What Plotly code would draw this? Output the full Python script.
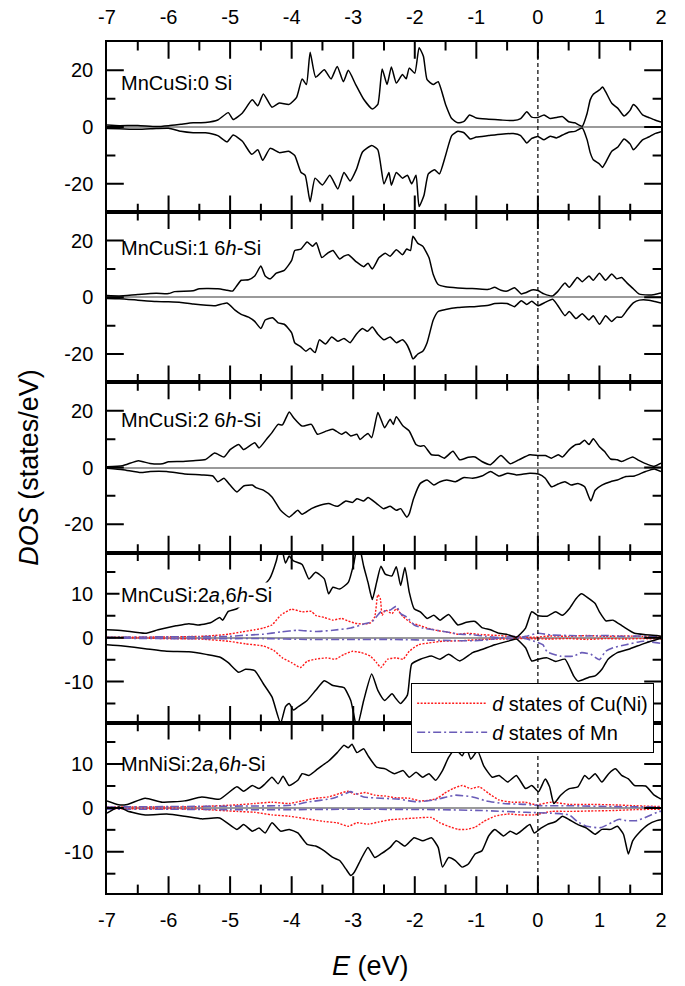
import plotly.graph_objects as go

# ---------------- data (E in eV, DOS in states/eV) ----------------
P1_UP = [(-7.0,0.7),(-6.8,0.5),(-6.5,0.6),(-6.2,0.2),(-6.0,0.5),(-5.8,1.0),(-5.6,1.5),(-5.4,1.6),(-5.2,2.5),(-5.03,5.1),(-4.95,2.7),(-4.8,5.0),(-4.64,9.6),(-4.55,7.5),(-4.46,11.7),(-4.32,7.0),(-4.2,8.5),(-4.04,8.0),(-3.92,10.5),(-3.83,17.0),(-3.76,15.0),(-3.70,26.4),(-3.61,17.6),(-3.47,20.2),(-3.36,17.0),(-3.26,21.4),(-3.16,16.0),(-3.08,20.0),(-2.96,15.0),(-2.83,9.8),(-2.69,6.4),(-2.6,8.0),(-2.53,20.5),(-2.45,15.0),(-2.38,21.2),(-2.3,15.5),(-2.2,18.5),(-2.14,17.0),(-2.09,20.8),(-2.0,19.0),(-1.93,28.0),(-1.86,25.0),(-1.80,16.7),(-1.7,15.0),(-1.62,16.0),(-1.5,8.0),(-1.4,3.0),(-1.3,1.5),(-1.2,2.0),(-1.11,4.3),(-1.0,3.2),(-0.8,2.8),(-0.6,2.5),(-0.4,2.3),(-0.28,3.0),(-0.18,5.4),(-0.1,3.5),(0.0,3.4),(0.1,4.3),(0.2,3.0),(0.3,3.4),(0.4,3.7),(0.5,1.9),(0.6,1.5),(0.72,0.3),(0.8,4.9),(0.85,9.6),(0.9,11.6),(1.0,13.1),(1.05,14.1),(1.1,12.5),(1.2,8.4),(1.3,6.6),(1.4,3.9),(1.5,6.0),(1.55,8.0),(1.6,7.2),(1.7,4.3),(1.8,3.4),(1.9,2.5),(2.0,1.8)]
P1_DN = [(-7.0,-0.5),(-6.8,-0.6),(-6.5,-0.8),(-6.2,-0.5),(-6.0,-0.4),(-5.8,-1.5),(-5.6,-2.0),(-5.4,-2.0),(-5.2,-3.0),(-5.05,-5.2),(-4.95,-2.8),(-4.8,-5.0),(-4.65,-9.6),(-4.55,-8.0),(-4.47,-11.7),(-4.35,-7.5),(-4.2,-9.0),(-4.05,-8.5),(-3.95,-10.0),(-3.85,-15.9),(-3.78,-17.0),(-3.70,-26.3),(-3.62,-18.0),(-3.5,-20.4),(-3.38,-17.0),(-3.25,-21.8),(-3.15,-16.0),(-3.05,-19.0),(-2.95,-15.0),(-2.85,-8.8),(-2.7,-6.5),(-2.6,-8.0),(-2.5,-20.0),(-2.42,-16.0),(-2.38,-20.5),(-2.3,-16.0),(-2.2,-18.0),(-2.12,-17.0),(-2.05,-20.0),(-1.98,-17.0),(-1.93,-28.0),(-1.85,-24.0),(-1.78,-16.5),(-1.68,-15.0),(-1.6,-16.5),(-1.5,-10.0),(-1.4,-3.0),(-1.3,-1.5),(-1.2,-2.0),(-1.1,-4.2),(-1.0,-3.5),(-0.8,-3.0),(-0.6,-2.5),(-0.4,-2.3),(-0.28,-3.0),(-0.18,-5.6),(-0.1,-4.0),(0.0,-3.3),(0.1,-4.5),(0.2,-3.2),(0.3,-3.8),(0.4,-2.8),(0.5,-1.8),(0.6,-1.5),(0.72,-0.3),(0.8,-4.5),(0.85,-9.0),(0.9,-11.5),(1.0,-13.0),(1.05,-14.2),(1.1,-12.5),(1.2,-8.5),(1.3,-7.0),(1.4,-4.2),(1.5,-6.0),(1.55,-8.0),(1.6,-7.0),(1.7,-4.5),(1.8,-3.5),(1.9,-2.3),(2.0,-1.6)]

P2_UP = [(-7.0,0.6),(-6.8,0.5),(-6.5,1.0),(-6.2,1.4),(-6.0,1.3),(-5.9,2.0),(-5.6,2.3),(-5.5,3.0),(-5.2,3.0),(-5.05,2.5),(-4.96,2.2),(-4.9,3.8),(-4.82,6.0),(-4.7,6.2),(-4.6,7.5),(-4.5,11.0),(-4.43,7.5),(-4.35,6.5),(-4.25,8.5),(-4.12,9.5),(-4.0,13.0),(-3.95,16.5),(-3.85,17.0),(-3.75,19.5),(-3.66,18.0),(-3.6,19.2),(-3.51,14.0),(-3.42,15.5),(-3.33,16.5),(-3.22,13.5),(-3.15,14.5),(-3.08,15.0),(-2.95,12.5),(-2.83,10.8),(-2.76,12.0),(-2.69,10.0),(-2.58,14.0),(-2.48,15.5),(-2.4,14.5),(-2.3,16.8),(-2.2,15.0),(-2.13,17.0),(-2.07,16.5),(-2.03,21.5),(-1.95,19.0),(-1.87,18.0),(-1.77,14.0),(-1.7,8.0),(-1.62,4.5),(-1.5,3.7),(-1.3,3.3),(-1.0,3.0),(-0.8,2.8),(-0.7,3.5),(-0.6,2.5),(-0.5,2.2),(-0.38,3.4),(-0.27,1.2),(-0.2,1.6),(-0.1,2.6),(0.0,2.4),(0.1,1.2),(0.24,0.5),(0.32,2.0),(0.44,5.0),(0.51,3.5),(0.64,7.0),(0.72,5.5),(0.83,7.5),(0.9,6.0),(1.0,8.5),(1.1,6.0),(1.2,8.2),(1.28,6.5),(1.36,7.0),(1.45,5.0),(1.55,3.0),(1.64,1.2),(1.8,0.8),(1.9,1.0),(2.0,1.5)]
P2_DN = [(-7.0,-0.4),(-6.8,-0.5),(-6.5,-1.0),(-6.2,-1.5),(-6.0,-1.6),(-5.8,-1.8),(-5.6,-2.4),(-5.25,-3.0),(-5.05,-2.0),(-4.92,-4.5),(-4.82,-6.0),(-4.7,-7.0),(-4.6,-8.5),(-4.5,-11.0),(-4.43,-8.0),(-4.31,-7.2),(-4.22,-9.0),(-4.12,-9.5),(-4.0,-12.5),(-3.95,-16.0),(-3.85,-17.5),(-3.77,-19.0),(-3.7,-18.0),(-3.62,-19.5),(-3.55,-15.0),(-3.45,-16.5),(-3.35,-14.0),(-3.25,-15.5),(-3.15,-14.5),(-3.05,-16.0),(-2.95,-13.0),(-2.85,-11.0),(-2.77,-12.0),(-2.69,-10.5),(-2.6,-13.0),(-2.5,-15.0),(-2.4,-14.0),(-2.3,-16.0),(-2.2,-15.0),(-2.12,-17.0),(-2.07,-19.5),(-2.03,-21.7),(-1.95,-20.0),(-1.87,-19.0),(-1.8,-16.0),(-1.7,-8.0),(-1.62,-5.0),(-1.5,-4.3),(-1.3,-3.6),(-1.0,-3.2),(-0.8,-2.8),(-0.7,-2.2),(-0.5,-2.2),(-0.38,-3.3),(-0.27,-1.2),(-0.18,-2.5),(-0.1,-1.4),(0.0,-3.0),(0.1,-2.0),(0.24,-0.7),(0.32,-2.8),(0.44,-6.5),(0.51,-5.0),(0.62,-7.5),(0.72,-5.8),(0.83,-8.0),(0.9,-6.5),(1.0,-9.5),(1.1,-6.5),(1.2,-8.5),(1.28,-7.0),(1.36,-7.0),(1.45,-4.5),(1.55,-2.0),(1.65,-1.0),(1.8,-1.0),(1.9,-1.5),(2.0,-2.0)]

P3_UP = [(-7.0,0.3),(-6.75,0.6),(-6.49,2.4),(-6.3,1.4),(-6.1,1.3),(-6.0,2.0),(-5.8,2.1),(-5.6,2.4),(-5.4,2.8),(-5.25,5.1),(-5.1,3.7),(-5.0,6.3),(-4.86,8.1),(-4.78,6.3),(-4.6,8.7),(-4.53,6.9),(-4.39,10.5),(-4.32,12.3),(-4.22,15.2),(-4.15,15.0),(-4.04,19.6),(-3.97,17.6),(-3.83,14.6),(-3.68,15.2),(-3.58,11.7),(-3.43,12.9),(-3.33,13.5),(-3.19,11.7),(-3.12,12.5),(-3.04,11.1),(-2.94,11.7),(-2.89,9.9),(-2.82,11.1),(-2.76,12.0),(-2.7,10.5),(-2.6,19.4),(-2.55,17.0),(-2.49,14.0),(-2.4,17.0),(-2.35,15.2),(-2.3,17.9),(-2.19,14.6),(-2.09,12.9),(-1.98,8.1),(-1.91,7.5),(-1.85,7.7),(-1.73,4.5),(-1.62,4.3),(-1.52,3.3),(-1.38,5.7),(-1.27,2.7),(-1.13,3.6),(-1.02,3.7),(-0.91,2.1),(-0.77,1.0),(-0.6,4.2),(-0.45,1.3),(-0.31,2.7),(-0.13,4.5),(0.01,4.2),(0.12,4.2),(0.22,3.3),(0.33,4.5),(0.4,3.7),(0.51,6.3),(0.62,8.1),(0.68,8.3),(0.76,9.6),(0.83,8.1),(0.9,10.1),(1.0,7.3),(1.08,5.7),(1.18,3.0),(1.29,2.7),(1.36,2.1),(1.54,3.7),(1.64,2.5),(1.79,1.0),(1.89,0.4),(2.0,1.5)]
P3_DN = [(-7.0,-0.3),(-6.74,-0.8),(-6.45,-1.8),(-6.3,-1.4),(-6.03,-1.4),(-5.74,-2.3),(-5.46,-2.6),(-5.28,-3.0),(-5.2,-5.0),(-5.1,-3.8),(-5.0,-6.2),(-4.89,-8.6),(-4.78,-6.5),(-4.64,-6.2),(-4.57,-7.2),(-4.46,-8.0),(-4.32,-10.4),(-4.18,-15.1),(-4.04,-17.5),(-3.97,-16.3),(-3.9,-15.1),(-3.83,-16.5),(-3.68,-14.5),(-3.54,-13.3),(-3.4,-12.7),(-3.26,-13.7),(-3.12,-11.8),(-3.01,-12.3),(-2.94,-11.0),(-2.83,-11.8),(-2.76,-10.6),(-2.62,-12.7),(-2.51,-14.5),(-2.4,-13.7),(-2.3,-15.1),(-2.23,-14.5),(-2.13,-17.5),(-2.09,-16.3),(-2.02,-11.0),(-1.91,-5.6),(-1.8,-4.4),(-1.69,-6.2),(-1.59,-5.0),(-1.48,-4.4),(-1.34,-5.0),(-1.2,-3.5),(-1.06,-3.8),(-0.91,-3.0),(-0.77,-1.4),(-0.63,-3.0),(-0.49,-2.0),(-0.35,-2.6),(-0.13,-2.0),(0.01,-2.3),(0.12,-3.8),(0.22,-6.8),(0.33,-5.8),(0.44,-5.0),(0.54,-6.2),(0.65,-5.6),(0.76,-6.8),(0.86,-11.8),(0.93,-8.0),(1.04,-6.2),(1.18,-5.0),(1.29,-4.4),(1.43,-3.2),(1.57,-3.0),(1.75,-1.4),(1.89,-0.5),(2.0,-1.4)]

P4_UP = [(-7.0,1.8),(-6.74,1.6),(-6.38,1.0),(-6.17,1.8),(-5.88,2.7),(-5.67,3.2),(-5.53,2.9),(-5.32,3.4),(-5.17,4.6),(-5.12,4.0),(-5.03,6.0),(-4.89,6.6),(-4.75,8.5),(-4.6,10.2),(-4.45,12.0),(-4.36,13.4),(-4.25,17.5),(-4.18,21.5),(-4.1,17.0),(-4.04,18.6),(-3.97,17.5),(-3.83,16.7),(-3.72,13.4),(-3.61,14.9),(-3.47,13.4),(-3.4,10.0),(-3.33,11.5),(-3.22,11.1),(-3.08,12.6),(-2.99,17.0),(-2.92,22.0),(-2.83,16.3),(-2.76,12.6),(-2.69,8.7),(-2.62,12.6),(-2.55,16.3),(-2.48,14.5),(-2.37,14.1),(-2.3,16.2),(-2.23,11.9),(-2.16,16.0),(-2.09,10.4),(-2.01,6.6),(-1.91,5.9),(-1.8,4.4),(-1.69,5.1),(-1.59,4.0),(-1.45,5.3),(-1.3,2.9),(-1.16,3.5),(-1.02,3.7),(-0.91,2.3),(-0.77,1.8),(-0.63,1.0),(-0.49,0.7),(-0.35,0.1),(-0.2,2.2),(-0.1,5.9),(0.01,5.0),(0.15,4.9),(0.29,5.9),(0.4,5.1),(0.51,6.6),(0.62,8.9),(0.71,10.0),(0.83,8.9),(0.93,7.8),(1.0,5.9),(1.11,3.8),(1.22,4.0),(1.39,2.5),(1.57,1.0),(1.75,0.7),(1.93,0.5),(2.0,0.3)]
P4_DN = [(-7.0,-1.6),(-6.74,-1.9),(-6.38,-2.5),(-6.03,-3.1),(-5.67,-3.2),(-5.39,-3.8),(-5.17,-4.4),(-5.03,-5.7),(-4.86,-7.9),(-4.75,-7.2),(-4.6,-7.5),(-4.46,-10.5),(-4.32,-13.5),(-4.18,-19.5),(-4.1,-15.7),(-4.04,-15.0),(-3.97,-16.5),(-3.9,-15.8),(-3.75,-14.3),(-3.61,-12.0),(-3.47,-9.8),(-3.33,-10.9),(-3.15,-11.4),(-3.04,-14.3),(-2.94,-20.5),(-2.83,-14.3),(-2.7,-8.3),(-2.6,-12.0),(-2.49,-14.3),(-2.37,-12.8),(-2.3,-14.0),(-2.23,-15.0),(-2.12,-13.1),(-2.05,-6.0),(-1.91,-4.9),(-1.73,-4.2),(-1.59,-4.9),(-1.45,-3.8),(-1.27,-5.3),(-1.06,-3.4),(-0.91,-2.7),(-0.7,-1.6),(-0.49,-0.8),(-0.35,-0.3),(-0.2,-2.3),(-0.1,-5.3),(0.01,-4.9),(0.15,-4.6),(0.29,-5.4),(0.44,-4.9),(0.58,-8.7),(0.65,-9.9),(0.83,-9.0),(0.93,-8.7),(1.04,-7.2),(1.14,-4.9),(1.29,-3.4),(1.5,-2.5),(1.71,-1.4),(1.93,-0.4),(2.0,-0.2)]
P4_CU_UP = [(-7.0,0.1),(-6.5,0.1),(-6.0,0.2),(-5.5,0.3),(-5.25,0.5),(-5.03,0.8),(-4.82,1.3),(-4.6,1.8),(-4.46,2.2),(-4.32,2.9),(-4.18,5.1),(-4.0,6.5),(-3.83,5.9),(-3.68,6.0),(-3.61,5.1),(-3.47,4.6),(-3.33,4.0),(-3.19,4.4),(-3.08,3.8),(-2.97,3.3),(-2.83,3.1),(-2.72,3.4),(-2.65,4.8),(-2.6,9.8),(-2.56,8.9),(-2.53,5.1),(-2.48,6.3),(-2.37,5.5),(-2.3,6.6),(-2.19,4.8),(-2.05,3.3),(-1.94,2.9),(-1.8,2.2),(-1.62,1.6),(-1.48,1.3),(-1.3,0.8),(-1.13,1.0),(-0.91,0.7),(-0.63,0.5),(-0.35,0.2),(-0.06,0.1),(0.2,0.4),(0.5,0.3),(0.8,0.5),(1.1,0.3),(1.4,0.4),(1.7,0.3),(2.0,0.3)]
P4_CU_DN = [(-7.0,-0.1),(-6.5,-0.1),(-6.0,-0.2),(-5.5,-0.3),(-5.03,-0.8),(-4.75,-1.4),(-4.46,-1.9),(-4.29,-2.9),(-4.15,-4.6),(-4.0,-5.7),(-3.86,-6.8),(-3.75,-5.4),(-3.61,-4.9),(-3.43,-4.6),(-3.29,-4.9),(-3.15,-3.8),(-3.01,-3.1),(-2.87,-3.4),(-2.72,-4.2),(-2.62,-5.7),(-2.55,-6.8),(-2.44,-4.9),(-2.3,-4.6),(-2.19,-4.9),(-2.09,-3.1),(-1.94,-1.6),(-1.77,-1.2),(-1.55,-0.8),(-1.27,-0.7),(-0.91,-0.4),(-0.56,-0.3),(-0.2,-0.2),(0.2,-0.3),(0.5,-0.2),(0.8,-0.4),(1.1,-0.2),(1.4,-0.3),(1.7,-0.2),(2.0,-0.3)]
P4_MN_UP = [(-7.0,0.1),(-6.0,0.2),(-5.0,0.3),(-4.82,0.5),(-4.46,0.8),(-4.18,1.3),(-3.9,1.7),(-3.61,1.4),(-3.33,1.7),(-3.04,2.2),(-2.83,3.1),(-2.69,3.7),(-2.55,5.9),(-2.4,6.3),(-2.3,7.2),(-2.23,5.5),(-2.12,4.6),(-2.01,2.9),(-1.87,2.2),(-1.69,1.8),(-1.48,1.3),(-1.27,0.8),(-1.06,0.7),(-0.84,0.3),(-0.56,-0.1),(-0.42,-0.3),(-0.2,0.3),(0.0,1.0),(0.22,0.6),(0.5,0.5),(0.8,0.4),(1.1,0.5),(1.4,0.3),(1.7,0.4),(2.0,0.2)]
P4_MN_DN = [(-7.0,-0.1),(-6.0,-0.2),(-5.0,-0.2),(-4.46,-0.2),(-3.75,-0.4),(-3.04,-0.4),(-2.33,-0.4),(-1.62,-0.6),(-1.06,-0.7),(-0.77,-0.4),(-0.56,0.1),(-0.35,0.3),(-0.06,-0.8),(0.08,-1.6),(0.15,-3.2),(0.36,-4.2),(0.58,-4.2),(0.71,-3.4),(0.86,-3.8),(1.0,-5.0),(1.1,-3.1),(1.22,-2.3),(1.43,-1.6),(1.71,-0.8),(2.0,-1.3)]

P5_UP = [(-7.0,1.6),(-6.81,0.7),(-6.67,0.8),(-6.38,2.2),(-6.1,1.3),(-5.74,1.6),(-5.46,2.5),(-5.17,2.0),(-4.89,4.8),(-4.78,3.8),(-4.64,5.1),(-4.53,4.4),(-4.43,5.5),(-4.32,7.0),(-4.22,5.5),(-4.14,7.2),(-4.04,5.1),(-3.9,6.3),(-3.83,7.8),(-3.72,7.4),(-3.61,8.5),(-3.51,9.6),(-3.4,10.7),(-3.26,12.6),(-3.15,14.3),(-3.08,13.7),(-3.02,14.5),(-2.94,12.6),(-2.83,13.5),(-2.76,11.9),(-2.62,9.3),(-2.48,8.9),(-2.33,7.8),(-2.19,8.5),(-2.09,7.0),(-1.98,8.1),(-1.87,7.0),(-1.77,7.8),(-1.66,6.3),(-1.55,8.5),(-1.45,11.5),(-1.34,13.4),(-1.23,11.9),(-1.16,13.7),(-1.09,11.1),(-0.98,13.0),(-0.88,9.6),(-0.74,7.0),(-0.63,7.4),(-0.49,5.9),(-0.35,7.4),(-0.2,4.4),(-0.1,5.1),(0.01,3.7),(0.12,6.6),(0.19,4.8),(0.26,1.0),(0.37,2.9),(0.51,4.4),(0.65,4.8),(0.76,7.4),(0.83,6.6),(0.93,7.8),(1.04,5.9),(1.15,7.8),(1.26,8.9),(1.36,7.4),(1.47,6.6),(1.57,5.1),(1.75,5.0),(1.89,2.9),(2.0,2.0)]
P5_DN = [(-7.0,-1.2),(-6.81,0.2),(-6.67,-0.7),(-6.38,-1.6),(-6.03,-1.4),(-5.74,-1.9),(-5.46,-2.5),(-5.17,-2.3),(-4.89,-4.9),(-4.78,-3.8),(-4.64,-5.3),(-4.53,-4.6),(-4.43,-5.7),(-4.32,-3.4),(-4.18,-5.3),(-4.04,-4.9),(-3.9,-5.7),(-3.75,-8.3),(-3.61,-8.7),(-3.47,-9.8),(-3.33,-11.3),(-3.22,-12.0),(-3.12,-13.9),(-3.04,-15.4),(-2.98,-14.6),(-2.87,-11.6),(-2.76,-9.0),(-2.65,-11.3),(-2.55,-10.5),(-2.4,-9.0),(-2.3,-7.5),(-2.16,-8.7),(-2.01,-6.8),(-1.87,-7.5),(-1.73,-6.8),(-1.62,-9.0),(-1.55,-13.5),(-1.45,-11.3),(-1.34,-12.0),(-1.23,-13.5),(-1.13,-12.8),(-1.02,-10.5),(-0.91,-9.8),(-0.8,-6.4),(-0.7,-4.9),(-0.56,-6.4),(-0.45,-5.3),(-0.35,-6.0),(-0.24,-4.9),(-0.13,-3.8),(-0.06,-5.7),(0.05,-4.6),(0.15,-3.8),(0.29,-3.1),(0.4,-1.9),(0.51,-2.7),(0.65,-3.8),(0.79,-4.6),(0.93,-6.0),(1.04,-4.9),(1.18,-4.9),(1.29,-4.2),(1.39,-6.0),(1.47,-10.5),(1.54,-7.5),(1.64,-5.7),(1.79,-3.8),(1.93,-2.9),(2.0,-2.7)]
P5_CU_UP = [(-7.0,0.2),(-6.0,0.2),(-5.5,0.3),(-4.89,0.7),(-4.6,1.0),(-4.32,1.3),(-4.04,1.0),(-3.83,1.6),(-3.61,2.2),(-3.4,2.5),(-3.22,3.3),(-3.08,3.8),(-2.98,3.1),(-2.8,3.5),(-2.65,2.9),(-2.48,2.7),(-2.3,2.3),(-2.09,2.2),(-1.91,1.6),(-1.73,1.8),(-1.62,2.3),(-1.52,3.3),(-1.38,4.4),(-1.23,5.1),(-1.09,4.4),(-0.95,4.8),(-0.8,3.3),(-0.63,1.8),(-0.42,1.3),(-0.2,1.3),(-0.03,0.7),(0.22,1.3),(0.51,0.8),(0.86,0.8),(1.22,0.7),(1.57,0.5),(2.0,0.3)]
P5_CU_DN = [(-7.0,-0.2),(-6.0,-0.2),(-5.5,-0.3),(-4.89,-0.8),(-4.6,-1.0),(-4.32,-1.6),(-4.04,-1.9),(-3.75,-2.5),(-3.47,-3.1),(-3.26,-3.4),(-3.08,-4.2),(-2.94,-3.4),(-2.76,-3.7),(-2.58,-3.2),(-2.4,-2.7),(-2.19,-2.5),(-1.98,-2.3),(-1.73,-2.2),(-1.59,-3.4),(-1.45,-4.2),(-1.3,-4.9),(-1.16,-4.9),(-1.02,-4.4),(-0.88,-3.1),(-0.7,-1.9),(-0.49,-1.4),(-0.27,-1.6),(-0.06,-1.6),(0.22,-0.8),(0.51,-0.8),(0.86,-0.7),(1.22,-0.6),(1.57,-0.4),(2.0,-0.3)]
P5_MN_UP = [(-7.0,0.2),(-6.0,0.3),(-5.0,0.4),(-4.0,0.6),(-3.75,1.3),(-3.33,2.2),(-3.12,3.3),(-3.04,3.7),(-2.83,2.5),(-2.55,2.2),(-2.26,2.0),(-1.98,1.4),(-1.69,1.8),(-1.48,2.5),(-1.34,2.9),(-1.06,2.5),(-0.84,1.6),(-0.56,1.0),(-0.2,0.8),(0.08,0.5),(0.51,0.5),(1.22,0.3),(2.0,0.2)]
P5_MN_DN = [(-7.0,-0.3),(-6.0,-0.3),(-5.0,-0.4),(-4.0,-0.4),(-3.04,-0.3),(-1.62,-0.4),(-0.91,-0.6),(-0.2,-1.0),(0.22,-1.2),(0.51,-1.6),(0.64,-3.1),(0.79,-4.2),(1.02,-4.5),(1.22,-3.2),(1.32,-2.6),(1.43,-2.9),(1.61,-2.9),(1.79,-1.9),(1.97,-0.8),(2.0,-0.8)]

PANEL_LABELS = ["MnCuSi:0 Si", "MnCuSi:1 6<i>h</i>-Si", "MnCuSi:2 6<i>h</i>-Si",
                "MnCuSi:2<i>a</i>,6<i>h</i>-Si", "MnNiSi:2<i>a</i>,6<i>h</i>-Si"]
LEGEND_NAMES = ["<i>d</i> states of Cu(Ni)", "<i>d</i> states of Mn"]
X_TICKS = [-7, -6, -5, -4, -3, -2, -1, 0, 1, 2]
X_MINOR = [-6.5, -5.5, -4.5, -3.5, -2.5, -1.5, -0.5, 0.5, 1.5]
E_RANGE = [-7, 2]
Y_RANGES = [[-30, 30], [-30, 30], [-30, 30], [-19.4, 19.4], [-19.4, 19.4]]
Y_TICKS = [[-20, 0, 20]] * 3 + [[-10, 0, 10]] * 2
Y_MINOR = [[-10, 10]] * 3 + [[-15, -5, 5, 15]] * 2
FERMI = 0.0

# ---------------- styling ----------------
FONT = "Liberation Sans, Arial, Helvetica, sans-serif"
BLACK_W = 1.5
RED = "#ff1a1a"
PURPLE = "#6a5cb8"
DOMAINS = [[0.8, 1.0], [0.6, 0.8], [0.4, 0.6], [0.2, 0.4], [0.0, 0.2]]
MAJ_LEN, MIN_LEN, TICK_W = 12, 6, 2

fig = go.Figure()

def add(pairs, panel, color="black", dash="solid", width=BLACK_W, name=None, show=False):
    xs = [p[0] for p in pairs]
    ys = [p[1] for p in pairs]
    sfx = "" if panel == 1 else str(panel)
    fig.add_trace(go.Scatter(x=xs, y=ys, mode="lines", xaxis="x" + sfx, yaxis="y" + sfx,
                             line=dict(color=color, width=width, dash=dash, shape="spline", smoothing=0.5),
                             name=name, showlegend=show, hoverinfo="skip"))

add(P1_UP, 1); add(P1_DN, 1)
add(P2_UP, 2); add(P2_DN, 2)
add(P3_UP, 3); add(P3_DN, 3)
RED_DASH = "2px,1.5px"
MN_DASH = "8px,3px,2px,3px"
add(P4_CU_UP, 4, RED, RED_DASH, 1.4, LEGEND_NAMES[0], True); add(P4_CU_DN, 4, RED, RED_DASH, 1.4)
add(P4_MN_UP, 4, PURPLE, MN_DASH, 1.6, LEGEND_NAMES[1], True); add(P4_MN_DN, 4, PURPLE, MN_DASH, 1.6)
add(P4_UP, 4); add(P4_DN, 4)
add(P5_CU_UP, 5, RED, RED_DASH, 1.4); add(P5_CU_DN, 5, RED, RED_DASH, 1.4)
add(P5_MN_UP, 5, PURPLE, MN_DASH, 1.6); add(P5_MN_DN, 5, PURPLE, MN_DASH, 1.6)
add(P5_UP, 5); add(P5_DN, 5)

def tick_marks(sfx, xs, ys, symbol, length):
    # inward tick marks: line markers centred on the frame, outer half clipped by the plot area
    fig.add_trace(go.Scatter(x=xs, y=ys, mode="markers", xaxis="x" + sfx, yaxis="y" + sfx,
                             marker=dict(symbol=symbol, size=2 * length, color="black",
                                         line=dict(width=TICK_W, color="black")),
                             cliponaxis=True, showlegend=False, hoverinfo="skip"))

layout = dict(template="none", width=685, height=986, margin=dict(l=107, r=24, t=42, b=93),
              paper_bgcolor="white", plot_bgcolor="white",
              font=dict(family=FONT, size=20, color="black"),
              showlegend=True,
              legend=dict(x=0.549, y=0.247, xanchor="left", yanchor="top",
                          bgcolor="white", bordercolor="black", borderwidth=1,
                          font=dict(size=20, family=FONT), tracegroupgap=0, itemwidth=70))

annotations = []
label_y = [0.76, 0.79, 0.78, 0.75, 0.76]
for i in range(1, 6):
    sfx = "" if i == 1 else str(i)
    show_lbl = i in (1, 5)
    yr = Y_RANGES[i - 1]
    layout["xaxis" + sfx] = dict(
        range=E_RANGE, anchor="y" + sfx, domain=[0, 1],
        side="top" if i == 1 else "bottom",
        showline=True, linecolor="black", linewidth=1.5, mirror=True, ticks="",
        tickmode="array", tickvals=X_TICKS, ticktext=[str(t) for t in X_TICKS],
        showticklabels=show_lbl, showgrid=False, zeroline=False,
        tickfont=dict(size=20, family=FONT), ticklabelstandoff=8)
    layout["yaxis" + sfx] = dict(
        range=yr, domain=DOMAINS[i - 1], anchor="x" + sfx,
        showline=True, linecolor="black", linewidth=1.5, mirror=True, ticks="",
        tickmode="array", tickvals=Y_TICKS[i - 1], ticktext=[str(t) for t in Y_TICKS[i - 1]],
        showgrid=False, zeroline=True, zerolinecolor="#9a9a9a", zerolinewidth=1.5,
        tickfont=dict(size=20, family=FONT), ticklabelstandoff=8)
    xmaj = [t for t in X_TICKS if E_RANGE[0] < t < E_RANGE[1]]
    tick_marks(sfx, xmaj * 2, [yr[0]] * len(xmaj) + [yr[1]] * len(xmaj), "line-ns", MAJ_LEN)
    tick_marks(sfx, X_MINOR * 2, [yr[0]] * len(X_MINOR) + [yr[1]] * len(X_MINOR), "line-ns", MIN_LEN)
    ymaj, ymin = Y_TICKS[i - 1], Y_MINOR[i - 1]
    tick_marks(sfx, [E_RANGE[0]] * len(ymaj) + [E_RANGE[1]] * len(ymaj), ymaj * 2, "line-ew", MAJ_LEN)
    tick_marks(sfx, [E_RANGE[0]] * len(ymin) + [E_RANGE[1]] * len(ymin), ymin * 2, "line-ew", MIN_LEN)
    annotations.append(dict(text=PANEL_LABELS[i - 1], xref="x" + sfx + " domain", yref="y" + sfx + " domain",
                            x=0.022, y=label_y[i - 1], xanchor="left", yanchor="middle", showarrow=False,
                            font=dict(size=20, family=FONT),
                            bgcolor="white" if i == 4 else "rgba(0,0,0,0)", borderpad=1))

annotations.append(dict(text="<i>DOS</i> (states/eV)", xref="paper", yref="paper", x=-0.142, y=0.5,
                        textangle=-90, showarrow=False, font=dict(size=27, family=FONT),
                        xanchor="center", yanchor="middle"))
annotations.append(dict(text="<i>E</i> (eV)", xref="paper", yref="paper", x=(370 - 107) / 554, y=(893 - 966) / 851,
                        showarrow=False, font=dict(size=27, family=FONT),
                        xanchor="center", yanchor="middle"))
layout["annotations"] = annotations
layout["shapes"] = [dict(type="line", xref="x", yref="paper", x0=FERMI, x1=FERMI, y0=0, y1=1,
                         line=dict(color="black", width=1.2, dash="4px,3px"), layer="above")]
fig.update_layout(**layout)
fig.write_html("out.html")
